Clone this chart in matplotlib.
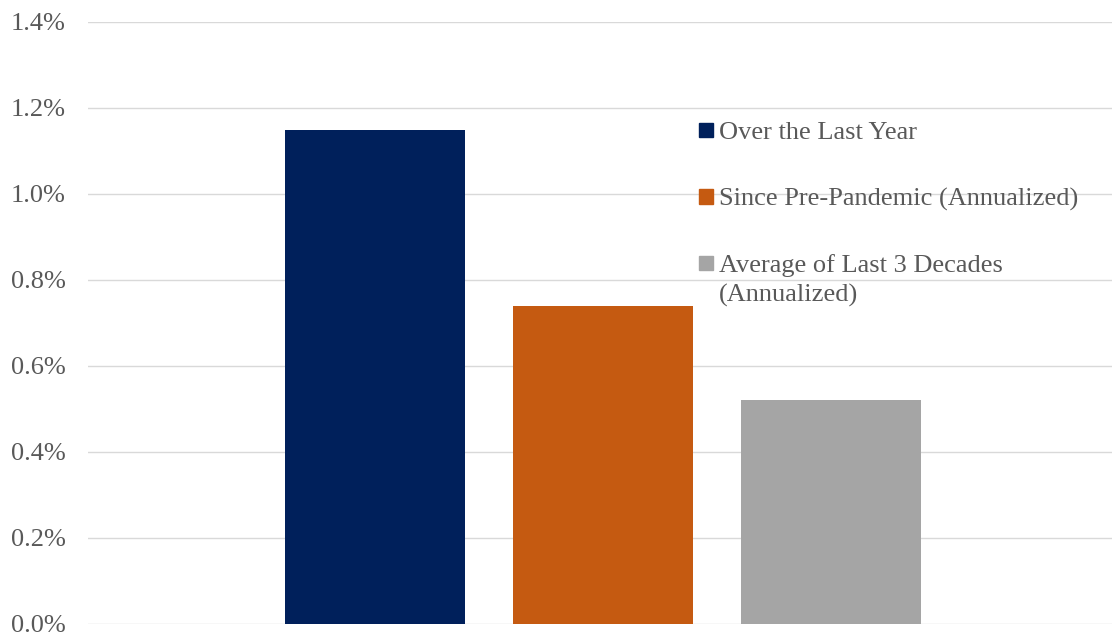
import matplotlib
matplotlib.use('Agg')
import matplotlib.pyplot as plt
from matplotlib.patches import Rectangle

# data
labels = ['Over the Last Year', 'Since Pre-Pandemic (Annualized)',
          'Average of Last 3 Decades\n(Annualized)']
values = [1.15, 0.74, 0.52]
colors = ['#00205B', '#C55A11', '#A5A5A5']
yticks = [0.0, 0.2, 0.4, 0.6, 0.8, 1.0, 1.2, 1.4]

plt.rcParams['font.family'] = ['Liberation Serif', 'DejaVu Serif']

W, H = 1112, 635
fig = plt.figure(figsize=(W / 100, H / 100), dpi=100)
ax = fig.add_axes([88 / W, (H - 624) / H, 1 - 88 / W, (624 - 22) / H])

x = range(len(values))
ax.bar(x, values, width=0.79, color=colors, zorder=2)

ax.set_xlim(-1.259, 3.232)
ax.set_ylim(0, 1.4)
ax.set_yticks(yticks)
ax.set_yticklabels([f'{v:.1f}%' for v in yticks], fontsize=19, color='#595959')
ax.tick_params(axis='y', length=0, pad=16)
ax.set_xticks([])
ax.grid(axis='y', color='#D9D9D9', lw=1, zorder=0)
for s in ax.spines.values():
    s.set_visible(False)

# legend, drawn by hand so the marker sits on the first text line
for i, (lab, col) in enumerate(zip(labels, colors)):
    base = 139 + 66.5 * i
    fig.patches.append(Rectangle((699 / W, (H - base + 2) / H), 14 / W, 14 / H,
                                 transform=fig.transFigure, color=col))
    for j, line in enumerate(lab.split('\n')):
        fig.text(719 / W, (H - base - 30 * j) / H, line, fontsize=19,
                 color='#595959', va='baseline', ha='left')

fig.savefig('out.png', dpi=100)
